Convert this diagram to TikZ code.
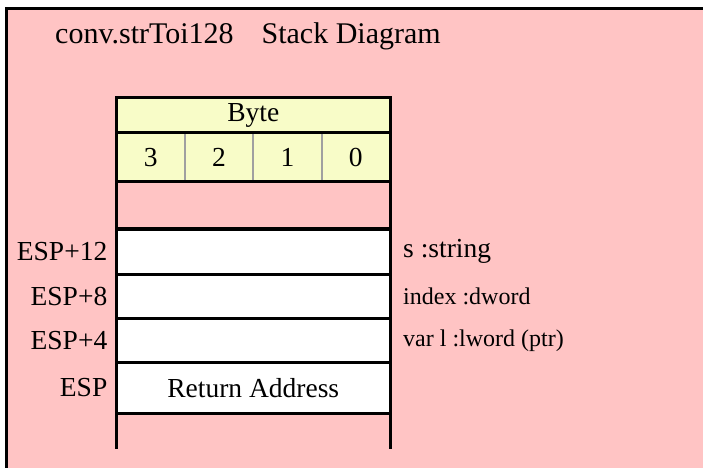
\documentclass[tikz,border=0pt]{standalone}
\usepackage{fontspec}
\setmainfont{Liberation Serif}
\usetikzlibrary{positioning, calc}

\definecolor{stackpink}{RGB}{255,196,196}
\definecolor{byteyellow}{RGB}{248,252,200}
\definecolor{dividergray}{RGB}{160,160,160}

\newcommand{\bodyfont}{\fontsize{27.5bp}{32bp}\selectfont}
\newcommand{\notefont}{\fontsize{24bp}{28bp}\selectfont}

\begin{document}
\begin{tikzpicture}[
  x=1bp, y=-1bp,
  row/.style = {draw, line width=3bp, outer sep=0pt, inner sep=0pt, minimum width=273.5bp, font=\bodyfont},
  divider/.style = {draw=dividergray, line width=2bp, shorten <=1.5bp, shorten >=1.5bp},
  offset/.style = {font=\bodyfont, inner sep=0pt, left=9bp of #1},
  param/.style = {font=\notefont, inner sep=0pt, right=13bp of #1}
]

  % Background
  \useasboundingbox (0,0) rectangle (703,468);
  \fill[stackpink] (6.5,8.5) rectangle (703,468);
  \draw[line width=3bp] (6.5,468) -- (6.5,8.5) -- (703,8.5);
  \node[font=\fontsize{30bp}{34bp}\selectfont, inner sep=0pt, anchor=base west] (title) at (55,44) {conv.strToi128\hspace{28bp}Stack Diagram};

  % Nodes
  \node[row, fill=byteyellow, minimum height=35bp, anchor=north west] (byte) at (116.5,98) {Byte};
  \node[row, fill=byteyellow, draw=none, minimum height=48.5bp, below=0pt of byte] (digits) {};
  \foreach \d [count=\i] in {3,2,1,0}
    \node[font=\bodyfont] (b\d) at ($(digits.west)!{(\i-0.5)/4}!(digits.east)$) {\d};
  \foreach \i in {1,2,3}
    \draw[divider] ($(digits.north west)!{\i/4}!(digits.north east)$) -- ($(digits.south west)!{\i/4}!(digits.south east)$);
  \draw[line width=3bp] (digits.north west) rectangle (digits.south east);

  \node[row, fill=stackpink, minimum height=47.5bp, below=0pt of digits] (top) {};
  \node[row, fill=white, minimum height=45bp, below=0pt of top] (s) {};
  \node[row, fill=white, minimum height=44.5bp, below=0pt of s] (index) {};
  \node[row, fill=white, minimum height=44bp, below=0pt of index] (varl) {};
  \node[row, fill=white, minimum height=51bp, below=0pt of varl] (ret) {Return Address};

  % Open bottom of the stack
  \draw[line width=3bp] (ret.south west) -- ++(0,35);
  \draw[line width=3bp] (ret.south east) -- ++(0,35);

  % Offsets
  \node[offset=s] (esp12) {ESP+12};
  \node[offset=index] (esp8) {ESP+8};
  \node[offset=varl] (esp4) {ESP+4};
  \node[offset=ret] (esp) {ESP};

  % Parameters
  \node[param=s, font=\bodyfont] (ps) {s :string};
  \node[param=index] (pindex) {index :dword};
  \node[param=varl] (pvarl) {var l :lword (ptr)};

\end{tikzpicture}
\end{document}
